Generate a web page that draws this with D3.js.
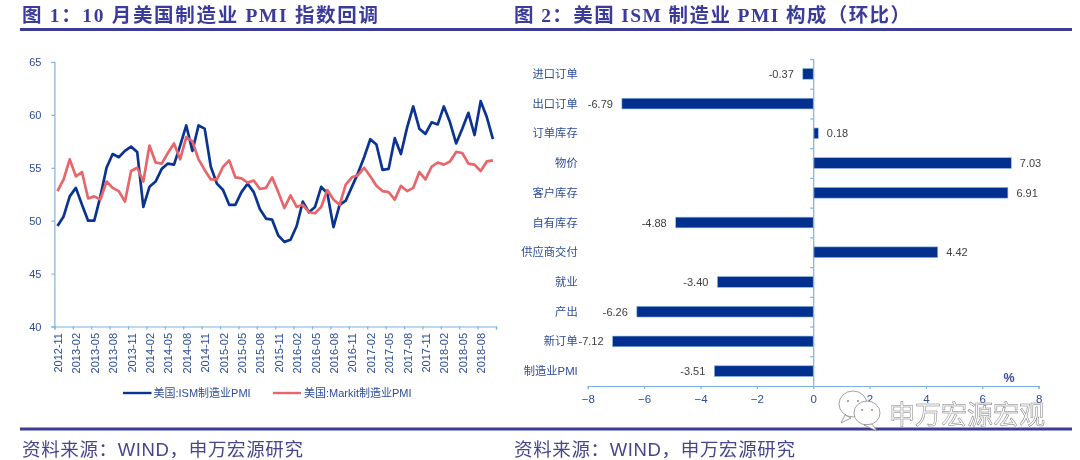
<!DOCTYPE html>
<html><head><meta charset="utf-8">
<script src="https://cdn.jsdelivr.net/npm/d3@7"></script>
<style>
html,body{margin:0;padding:0;background:#fff}
svg{display:block;filter:blur(0.35px)}
text{font-family:"Liberation Sans","Noto Sans CJK SC",sans-serif}
</style></head><body>
<svg id="c" width="1080" height="460"></svg>
<script>
const months=["2012-11","2012-12","2013-01","2013-02","2013-03","2013-04","2013-05","2013-06","2013-07","2013-08","2013-09","2013-10","2013-11","2013-12","2014-01","2014-02","2014-03","2014-04","2014-05","2014-06","2014-07","2014-08","2014-09","2014-10","2014-11","2014-12","2015-01","2015-02","2015-03","2015-04","2015-05","2015-06","2015-07","2015-08","2015-09","2015-10","2015-11","2015-12","2016-01","2016-02","2016-03","2016-04","2016-05","2016-06","2016-07","2016-08","2016-09","2016-10","2016-11","2016-12","2017-01","2017-02","2017-03","2017-04","2017-05","2017-06","2017-07","2017-08","2017-09","2017-10","2017-11","2017-12","2018-01","2018-02","2018-03","2018-04","2018-05","2018-06","2018-07","2018-08","2018-09","2018-10"];
const ism=[49.5,50.4,52.3,53.1,51.5,50.0,50.0,52.3,55.0,56.3,56.0,56.6,57.0,56.5,51.3,53.2,53.7,54.9,55.4,55.3,57.1,59.0,56.6,59.0,58.7,55.1,53.5,52.9,51.5,51.5,52.7,53.5,52.7,51.1,50.2,50.1,48.6,48.0,48.2,49.5,51.8,50.8,51.3,53.2,52.6,49.4,51.5,51.9,53.2,54.5,56.0,57.7,57.2,54.8,54.9,57.8,56.3,58.8,60.8,58.7,58.2,59.3,59.1,60.8,59.3,57.3,58.7,60.2,58.1,61.3,59.8,57.7];
const markit=[52.8,53.9,55.8,54.2,54.6,52.1,52.3,52.0,53.7,53.1,52.8,51.8,54.7,55.0,53.7,57.1,55.5,55.4,56.4,57.3,55.8,57.9,57.5,55.8,54.8,53.9,53.9,55.1,55.7,54.1,54.0,53.6,53.8,53.0,53.1,54.1,52.7,51.2,52.4,51.3,51.5,50.8,50.7,51.3,52.9,52.0,51.5,53.4,54.1,54.3,55.0,54.2,53.3,52.8,52.7,52.0,53.3,52.8,53.1,54.6,53.9,55.1,55.5,55.3,55.6,56.5,56.4,55.4,55.3,54.7,55.6,55.7];
const yTicks=[40,45,50,55,60,65];
const lineNames=["美国:ISM制造业PMI","美国:Markit制造业PMI"];
const components=["进口订单","出口订单","订单库存","物价","客户库存","自有库存","供应商交付","就业","产出","新订单","制造业PMI"];
const changes=[-0.37,-6.79,0.18,7.03,6.91,-4.88,4.42,-3.40,-6.26,-7.12,-3.51];
const barTicks=[-8,-6,-4,-2,0,2,4,6,8];
const titles=["图 1：10 月美国制造业 PMI 指数回调","图 2：美国 ISM 制造业 PMI 构成（环比）"];
const sourceText="资料来源：WIND，申万宏源研究";
const watermark="申万宏源宏观";

const NAVY="#0b3391",RED="#e8666a",AXIS="#7fb2dc",LBL="#2c4c9a",TITLE="#3b3b9c";
const svg=d3.select("#c");

// header & footer
svg.append("rect").attr("x",20).attr("y",28).attr("width",1052).attr("height",3).attr("fill","#3c3c96");
svg.append("rect").attr("x",20).attr("y",427.5).attr("width",1052).attr("height",3).attr("fill","#3c3c96");
[[22,356],[514,396]].forEach(([x,w],i)=>{
 svg.append("text").text(titles[i]).attr("x",x).attr("y",22).attr("font-size",19.5).attr("font-weight",700)
  .attr("fill",TITLE).attr("textLength",w).attr("lengthAdjust","spacing")
  .style("font-family",'"Liberation Serif","Noto Sans CJK SC",serif');
 svg.append("text").text(sourceText).attr("x",x).attr("y",456).attr("font-size",18.5)
  .attr("fill","#46468f").attr("textLength",281).attr("lengthAdjust","spacing");
});

// left chart
const xI=d3.scaleLinear().domain([0,months.length]).range([54.4,496]);
const y=d3.scaleLinear().domain([40,65]).range([326.5,62]);
const step=xI(1)-xI(0);
const gx=svg.append("g").attr("transform",`translate(0,${y(40)})`)
 .call(d3.axisBottom(xI).tickValues(d3.range(0,months.length+1,3)).tickSize(3).tickFormat(i=>months[i]||""));
gx.selectAll("text").attr("text-anchor","end").attr("dy",0)
 .attr("transform",`translate(${step/2},0) rotate(-90)`).attr("x",-6.5).attr("y",4)
 .attr("font-size",11).attr("fill",LBL);
const gy=svg.append("g").attr("transform",`translate(${xI(0)},0)`)
 .call(d3.axisLeft(y).tickValues(yTicks).tickSize(3).tickPadding(10));
gy.selectAll("text").attr("font-size",11).attr("fill",LBL);
[gx,gy].forEach(g=>{g.selectAll("path,line").attr("stroke",AXIS).attr("stroke-width",1.2);});
const line=d3.line().x((d,i)=>xI(i+.5)).y(d=>y(d));
svg.append("path").datum(ism).attr("d",line).attr("fill","none").attr("stroke",NAVY).attr("stroke-width",2.7).attr("stroke-linejoin","round");
svg.append("path").datum(markit).attr("d",line).attr("fill","none").attr("stroke",RED).attr("stroke-width",2.7).attr("stroke-linejoin","round");
[[123,151.5,153.5,NAVY],[273,301,304,RED]].forEach(([a,b,t,c],i)=>{
 svg.append("line").attr("x1",a).attr("x2",b).attr("y1",393).attr("y2",393).attr("stroke",c).attr("stroke-width",2.4);
 svg.append("text").text(lineNames[i]).attr("x",t).attr("y",397).attr("font-size",11).attr("fill",LBL);
});

// right chart
const xB=d3.scaleLinear().domain([-8,8]).range([587.8,1038.6]);
const yI=d3.scaleLinear().domain([0,components.length]).range([59,386]);
const yB=d3.scaleBand().domain(components).range([59,386]).paddingInner(.64).paddingOuter(.32);
svg.selectAll(".bar").data(components).join("rect").attr("class","bar")
 .attr("x",(d,i)=>xB(Math.min(0,changes[i]))).attr("y",d=>yB(d))
 .attr("width",(d,i)=>Math.abs(xB(changes[i])-xB(0))).attr("height",yB.bandwidth())
 .attr("fill","#03308f").attr("stroke","#8fb8e4").attr("stroke-width",.6);
const gbx=svg.append("g").attr("transform",`translate(0,386)`)
 .call(d3.axisBottom(xB).tickValues(barTicks).tickSize(3).tickPadding(6).tickFormat(d3.format("d")));
gbx.selectAll("text").attr("font-size",11.5).attr("fill",LBL);
const gby=svg.append("g").attr("transform",`translate(${xB(0)},0)`)
 .call(d3.axisLeft(yI).tickValues(d3.range(0,components.length+1)).tickSize(3).tickFormat(""));
[gbx,gby].forEach(g=>{g.selectAll("path,line").attr("stroke",AXIS).attr("stroke-width",1.2);});
svg.selectAll(".cat").data(components).join("text").attr("class","cat").text(d=>d)
 .attr("x",577.7).attr("y",d=>yB(d)+yB.bandwidth()/2+4).attr("text-anchor","end")
 .attr("font-size",11.3).attr("fill",LBL);
svg.selectAll(".val").data(components).join("text").attr("class","val")
 .text((d,i)=>changes[i].toFixed(2))
 .attr("x",(d,i)=>xB(changes[i])+(changes[i]<0?-9:8.5))
 .attr("y",d=>yB(d)+yB.bandwidth()/2+4)
 .attr("text-anchor",(d,i)=>changes[i]<0?"end":"start")
 .attr("font-size",11).attr("fill","#404040");
svg.append("text").text("%").attr("x",1003.5).attr("y",382).attr("font-size",12.5).attr("font-weight",700).attr("fill","#3b48a8");

// watermark
const wm=svg.append("g").attr("fill","#fff").attr("stroke","#8a8a8a").attr("stroke-width",.8);
wm.append("ellipse").attr("cx",853).attr("cy",404).attr("rx",14).attr("ry",13);
wm.append("path").attr("d","M845 415 L841 423 L851 418 Z");
wm.append("ellipse").attr("cx",867).attr("cy",413).attr("rx",13).attr("ry",12);
wm.append("path").attr("d","M872 424 L877 431 L864 425 Z");
[[848,401],[858,401],[862,410],[872,410]].forEach(([cx,cy])=>wm.append("circle").attr("cx",cx).attr("cy",cy).attr("r",1).attr("fill","#8a8a8a").attr("stroke","none"));
svg.append("text").text(watermark).attr("x",889).attr("y",424).attr("font-size",26)
 .attr("fill","#fff").attr("stroke","#777").attr("stroke-width",.5).attr("textLength",156).attr("lengthAdjust","spacing");
</script></body></html>
